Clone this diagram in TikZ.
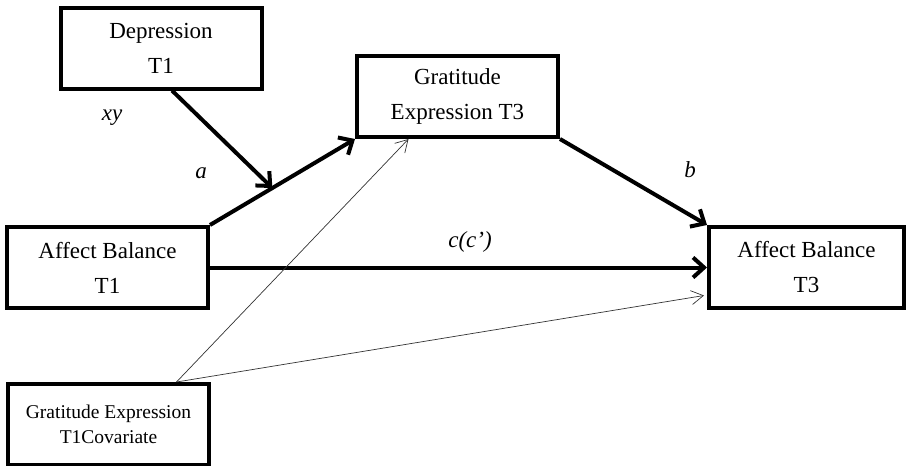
\documentclass[tikz,border=0pt]{standalone}
\usepackage{fontspec}
\setmainfont{Liberation Serif}
\usetikzlibrary{arrows.meta,calc}

\begin{document}
\begin{tikzpicture}[x=1pt,y=-1pt,
		box/.style={draw,line width=4pt,minimum width=201pt,minimum height=81pt,
			align=center,font=\fontsize{23}{35}\selectfont},
		path/.style={line width=4pt,-{Straight Barb[length=11pt,width=20pt]}},
		cov path/.style={line width=0.7pt,black!80,-{Straight Barb[length=12pt,width=14pt]}},
		coef/.style={font=\fontsize{23}{26}\selectfont\itshape}]
		\useasboundingbox (0,0) rectangle (906,466);
		% boxes
		\node[box] (dep) at (161,48) {Depression\\T1};
		\node[box] (grat3) at (457.5,96.5) {Gratitude\\Expression T3};
		\node[box] (aff1) at (107.5,267.5) {Affect Balance\\T1};
		\node[box,minimum width=195pt] (aff3) at (806.5,267.5) {Affect Balance\\T3};
		\node[box,font=\fontsize{19.5}{25}\selectfont] (cov) at (108.5,424.5) {Gratitude Expression\\T1Covariate};
		% paths
		\coordinate (mod) at ($(aff1.north east)!0.43!(grat3.south west)$);
		\draw[path] (aff1.north east) -- (grat3.south west);
		\draw[path] ([xshift=11pt]dep.south) -- (mod);
		\draw[path] (grat3.south east) -- (aff3.north west);
		\draw[path] (aff1.east) -- (aff3.west);
		\draw[cov path] ([xshift=68pt]cov.north) -- ([xshift=-49pt]grat3.south);
		\draw[cov path] ([xshift=68pt]cov.north) -- ([xshift=-3pt,yshift=-28pt]aff3.west);
		% labels
		\node[coef] (xy) at (112,118) {xy};
		\node[coef] (a) at (201,173) {a};
		\node[coef] (b) at (690,170) {b};
		\node[coef] (c) at (470,242) {c(c')};
\end{tikzpicture}
\end{document}
